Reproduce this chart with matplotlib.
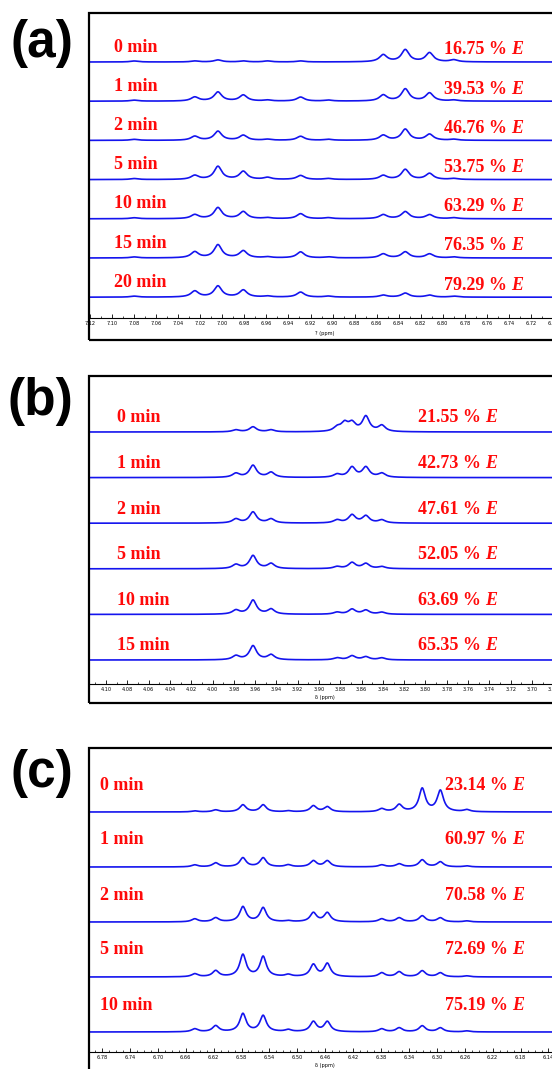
import numpy as np
import matplotlib
matplotlib.use("Agg")
import matplotlib.pyplot as plt
from matplotlib.patches import Rectangle
from matplotlib.ticker import MultipleLocator, FixedLocator, FormatStrFormatter
import matplotlib.transforms as mtransforms

W, H = 552, 1069

# ---- panel (a): 7.12 - 6.70 ppm ----
a_times = ["0 min", "1 min", "2 min", "5 min", "10 min", "15 min", "20 min"]
a_percent = ["16.75", "39.53", "46.76", "53.75", "63.29", "76.35", "79.29"]
a_ticks = [7.12, 7.10, 7.08, 7.06, 7.04, 7.02, 7.00, 6.98, 6.96, 6.94, 6.92,
           6.90, 6.88, 6.86, 6.84, 6.82, 6.80, 6.78, 6.76, 6.74, 6.72, 6.70]
a_peaks = [7.080, 7.025, 7.004, 6.981, 6.959, 6.929, 6.904, 6.854, 6.834, 6.812, 6.790]
a_heights = [
    [1, 1, 2, 1, 1, 1, 0, 7, 12, 9, 2],
    [1, 4, 9, 6, 1, 4, 1, 6, 12, 8, 1],
    [1, 4, 9, 5, 1, 4, 1, 5, 11, 6, 1],
    [1, 4, 13, 8, 2, 4, 1, 4, 10, 6, 1],
    [1, 4, 11, 7, 1, 5, 1, 4, 7, 4, 1],
    [1, 6, 13, 7, 1, 6, 1, 4, 6, 4, 1],
    [1, 6, 11, 7, 1, 5, 1, 2, 4, 2, 1],
]

# ---- panel (b): 4.12 - 3.68 ppm ----
b_times = ["0 min", "1 min", "2 min", "5 min", "10 min", "15 min"]
b_percent = ["21.55", "42.73", "47.61", "52.05", "63.69", "65.35"]
b_ticks = [4.10, 4.08, 4.06, 4.04, 4.02, 4.00, 3.98, 3.96, 3.94, 3.92, 3.90,
           3.88, 3.86, 3.84, 3.82, 3.80, 3.78, 3.76, 3.74, 3.72, 3.70, 3.68]
b_peaks = [3.978, 3.962, 3.945, 3.883, 3.876, 3.869, 3.856, 3.841]
b_heights = [
    [2, 5, 2, 4, 8, 8, 15, 6],
    [4, 12, 5, 3, 0, 10, 10, 4],
    [4, 11, 4, 3, 0, 8, 7, 3],
    [4, 13, 5, 2, 0, 6, 5, 2],
    [4, 14, 5, 2, 0, 5, 4, 2],
    [4, 14, 5, 2, 0, 4, 3, 2],
]

# ---- panel (c): 6.80 - 6.14 ppm ----
c_times = ["0 min", "1 min", "2 min", "5 min", "10 min"]
c_percent = ["23.14", "60.97", "70.58", "72.69", "75.19"]
c_ticks = [6.78, 6.74, 6.70, 6.66, 6.62, 6.58, 6.54, 6.50, 6.46, 6.42,
           6.38, 6.34, 6.30, 6.26, 6.22, 6.18, 6.14, 6.10]
c_peaks = [6.647, 6.617, 6.578, 6.549, 6.513, 6.477, 6.457, 6.379, 6.354, 6.321, 6.295, 6.257]
c_heights = [
    [1, 2, 7, 7, 1, 6, 5, 3, 7, 23, 21, 2],
    [2, 4, 9, 9, 2, 6, 6, 2, 3, 7, 5, 1],
    [3, 4, 15, 14, 1, 9, 9, 3, 4, 6, 4, 1],
    [3, 6, 22, 20, 2, 12, 13, 4, 5, 6, 4, 1],
    [3, 6, 18, 16, 2, 10, 10, 3, 4, 6, 4, 1],
]

BLUE = "#1414ee"
RED = "#ff0a0a"
SERIF = ["Liberation Serif", "DejaVu Serif"]


def rect(left, top, right, bottom):
    return [left / W, 1 - bottom / H, (right - left) / W, (bottom - top) / H]


def spectrum(x, peaks, heights, hw):
    """Sum of Lorentzian lines, heights in pixels."""
    y = np.zeros_like(x)
    for p, h in zip(peaks, heights):
        y += h * hw ** 2 / ((x - p) ** 2 + hw ** 2)
    return y


def panel(fig, letter, letter_xy, frame, ax_box, xlim, ticks, peaks, heights, hw,
          times, percents, base0, step, t_x, t_dy, p_x, p_dy, xlabel, lab_y, pad):
    left, top, right, bottom = frame
    # box around each pasted spectrum (right side runs off the page)
    fig.patches.append(Rectangle((left / W, 1 - bottom / H), (right - left + 40) / W,
                                 (bottom - top) / H, transform=fig.transFigure,
                                 fill=False, lw=1.6, ec="black", clip_on=False))
    fig.text(letter_xy[0] / W, 1 - letter_xy[1] / H, letter, fontsize=37,
             fontweight="bold", family="Liberation Sans", va="center", ha="left")

    al, at, ar, ab = ax_box
    ax = fig.add_axes(rect(al, at, ar, ab))
    ax.set_xlim(*xlim)
    ax.set_ylim(0, ab - at)
    for s in ["top", "left", "right"]:
        ax.spines[s].set_visible(False)
    ax.spines["bottom"].set_linewidth(0.8)
    ax.set_yticks([])
    ax.xaxis.set_major_locator(FixedLocator(ticks))
    ax.xaxis.set_minor_locator(MultipleLocator(0.01))
    ax.xaxis.set_major_formatter(FormatStrFormatter("%.2f"))
    ax.tick_params(axis="x", which="major", direction="in", length=3, width=0.6,
                   labelsize=3.6, pad=pad)
    ax.tick_params(axis="x", which="minor", direction="in", length=1.8, width=0.5)
    ax.patch.set_alpha(0)

    x = np.linspace(xlim[0], xlim[1], 1800)
    trans = mtransforms.blended_transform_factory(ax.transAxes, ax.transData)
    for i, hs in enumerate(heights):
        base = ab - (base0 + i * step)
        ax.plot(x, base + spectrum(x, peaks, hs, hw), color=BLUE, lw=1.2, clip_on=False)
        ax.text((t_x - al) / (ar - al), base + t_dy, times[i], transform=trans,
                color=RED, fontsize=13, fontweight="bold", family=SERIF,
                ha="left", va="center")
        ax.text((p_x - al) / (ar - al), base + p_dy, percents[i] + " %", transform=trans,
                color=RED, fontsize=13, fontweight="bold", family=SERIF,
                ha="left", va="center")
        ax.text((p_x + 67 - al) / (ar - al), base + p_dy, "E", transform=trans,
                color=RED, fontsize=13, fontweight="bold", fontstyle="italic",
                family=SERIF, ha="left", va="center")
    fig.text(325 / W, 1 - lab_y / H, xlabel, fontsize=3.6, ha="center", va="center")
    return ax


fig = plt.figure(figsize=(W / 100, H / 100), dpi=100)

panel(fig, "(a)", (11, 43), (89, 13, 552, 340), (89, 13, 575, 318), (7.121, 6.680),
      a_ticks, a_peaks, a_heights, 0.0042, a_times, a_percent, 62, 39.2,
      114, 15, 444, 12, "? (ppm)", 334, 2)
panel(fig, "(b)", (7, 401), (89, 376, 552, 703), (89, 376, 575, 684), (4.116, 3.6596),
      b_ticks, b_peaks, b_heights, 0.0040, b_times, b_percent, 432, 45.6,
      117, 14, 418, 14, "δ (ppm)", 698, 2)
panel(fig, "(c)", (11, 773), (89, 748, 552, 1090), (89, 748, 575, 1052), (6.7986, 6.102),
      c_ticks, c_peaks, c_heights, 0.0055, c_times, c_percent, 812, 55,
      100, 27, 445, 27, "δ (ppm)", 1066, 2.5)

fig.savefig("out.png", dpi=100)
